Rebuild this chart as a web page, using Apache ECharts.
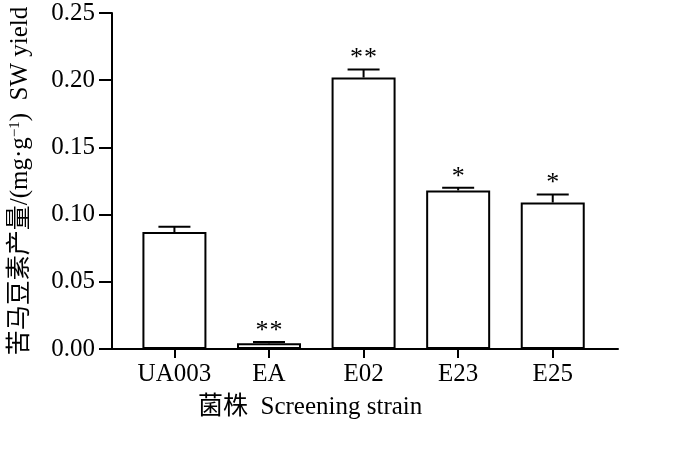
<!DOCTYPE html>
<html>
<head>
<meta charset="utf-8">
<script src="https://cdn.jsdelivr.net/npm/echarts@6/dist/echarts.min.js"></script>
<style>html,body{margin:0;padding:0;background:#fff;}#main{width:700px;height:472px;}</style>
</head>
<body>
<div id="main"></div>
<script>
const categories = ['UA003', 'EA', 'E02', 'E23', 'E25'];
const yieldValues = [0.087, 0.0042, 0.202, 0.118, 0.109];
const errorValues = [0.004, 0.001, 0.006, 0.002, 0.006];
const significance = ['', '**', '**', '*', '*'];
const positions = [1, 2, 3, 4, 5];

const FONT = "'Liberation Serif', 'Times New Roman', 'Noto Sans CJK SC', serif";

const chart = echarts.init(document.getElementById('main'), null, {renderer: 'canvas'});

const barData = positions.map((p, i) => [p, yieldValues[i]]);
const errData = positions.map((p, i) => [p, yieldValues[i], errorValues[i], i]);

chart.setOption({
  backgroundColor: '#fff',
  animation: false,
  grid: {left: 112, right: 82, top: 13, bottom: 123, containLabel: false},
  xAxis: {
    type: 'value',
    min: 0.34,
    max: 5.69,
    splitLine: {show: false},
    axisLine: {show: true, onZero: false, lineStyle: {color: '#000', width: 2}},
    axisTick: {show: true, customValues: positions, length: 9, lineStyle: {color: '#000', width: 2}},
    axisLabel: {
      customValues: positions,
      formatter: v => categories[Math.round(v) - 1],
      color: '#000', fontFamily: FONT, fontSize: 25, margin: 13
    }
  },
  yAxis: {
    type: 'value',
    min: 0, max: 0.25, interval: 0.05,
    splitLine: {show: false},
    axisLine: {show: true, lineStyle: {color: '#000', width: 2}},
    axisTick: {show: true, length: 13, lineStyle: {color: '#000', width: 2}},
    axisLabel: {formatter: v => v.toFixed(2), color: '#000', fontFamily: FONT, fontSize: 25, margin: 17},
    name: '{c|苦马豆素产量}{n|/(mg·g}{sup|−1}{n|)  SW yield}',
    nameLocation: 'middle',
    nameRotate: 90,
    nameGap: 79,
    nameTextStyle: {
      color: '#000', fontFamily: FONT, fontSize: 25,
      rich: {
        c: {color: '#000', fontFamily: FONT, fontSize: 25},
        n: {color: '#000', fontFamily: FONT, fontSize: 25},
        sup: {color: '#000', fontFamily: FONT, fontSize: 15, verticalAlign: 'top', padding: [0, 0, 10, 0]}
      }
    }
  },
  series: [
    {
      type: 'bar',
      data: barData,
      barWidth: 64,
      itemStyle: {color: '#fff', borderColor: '#000', borderWidth: 2},
      z: 2
    },
    {
      type: 'custom',
      data: errData,
      z: 3,
      renderItem: function (params, api) {
        const x = api.value(0), y = api.value(1), e = api.value(2), idx = api.value(3);
        const base = api.coord([x, y]);
        const top = api.coord([x, y + e]);
        const half = 16;
        const children = [
          {type: 'line', shape: {x1: base[0], y1: base[1], x2: top[0], y2: top[1]}, style: {stroke: '#000', lineWidth: 2}},
          {type: 'line', shape: {x1: top[0] - half, y1: top[1], x2: top[0] + half, y2: top[1]}, style: {stroke: '#000', lineWidth: 2}}
        ];
        const s = significance[idx];
        const n = s.length;
        for (let k = 0; k < n; k++) {
          const dx = (k - (n - 1) / 2) * 14;
          children.push({
            type: 'text',
            style: {text: '*', x: top[0] + dx, y: top[1] + 2, align: 'center', verticalAlign: 'bottom',
              font: '26px ' + FONT, fill: '#000'}
          });
        }
        return {type: 'group', children: children};
      }
    }
  ],
  graphic: [
    {type: 'text', left: 198, top: 395,
      style: {text: '菌株  Screening strain', font: '25px ' + FONT, fill: '#000'}}
  ]
});
</script>
</body>
</html>
